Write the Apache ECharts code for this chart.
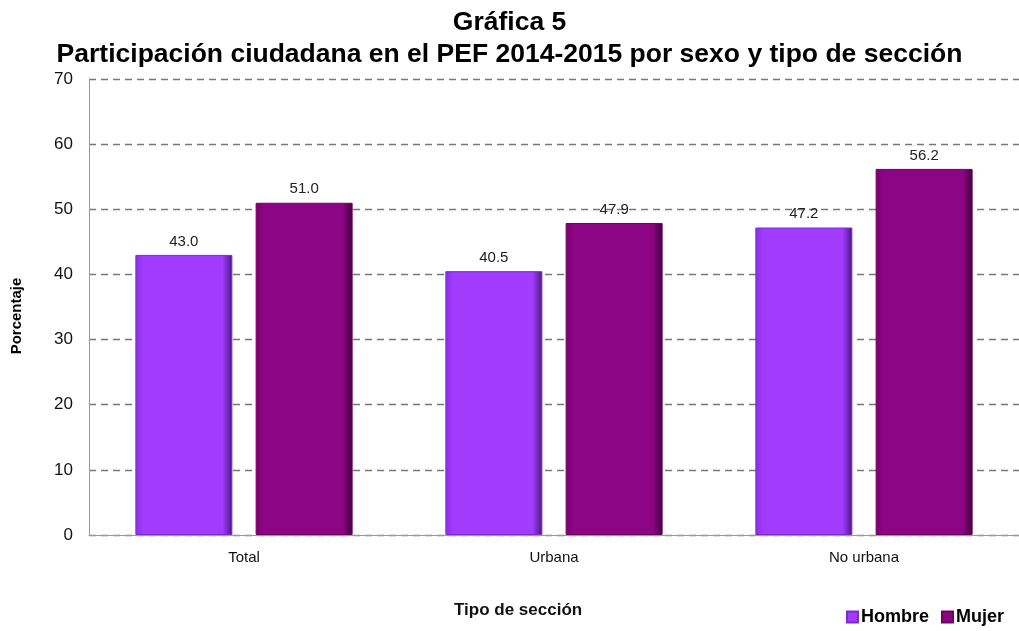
<!DOCTYPE html>
<html>
<head>
<meta charset="utf-8">
<script src="https://cdn.jsdelivr.net/npm/echarts@6/dist/echarts.min.js"></script>
<style>
  html, body { margin: 0; padding: 0; background: #fff; }
  #chart { width: 1019px; height: 631px; }
</style>
</head>
<body>
<div id="chart"></div>
<script>
// datos de la gráfica
var categorias = ['Total', 'Urbana', 'No urbana'];
var hombre = [43.0, 40.5, 47.2];
var mujer = [51.0, 47.9, 56.2];
var ticksY = [0, 10, 20, 30, 40, 50, 60, 70];

var font = 'Liberation Sans, Arial, sans-serif';

function bevel(left, mid, right) {
  return new echarts.graphic.LinearGradient(0, 0, 1, 0, [
    {offset: 0, color: left},
    {offset: 0.08, color: mid},
    {offset: 0.9, color: mid},
    {offset: 1, color: right}
  ]);
}

var chart = echarts.init(document.getElementById('chart'));
chart.setOption({
  animation: false,
  textStyle: {fontFamily: font},
  title: [
    {
      text: 'Gráfica 5\nParticipación ciudadana en el PEF 2014-2015 por sexo y tipo de sección',
      left: 'center',
      top: 2,
      padding: [5, 0, 5, 20],
      textStyle: {fontSize: 26.5, fontWeight: 'bold', color: '#000', lineHeight: 32, fontFamily: font}
    },
    {
      text: 'Tipo de sección',
      left: 449,
      top: 597,
      textStyle: {fontSize: 17, fontWeight: 'bold', color: '#111', fontFamily: font}
    }
  ],
  graphic: [{
    type: 'text',
    x: 9,
    y: 316,
    rotation: Math.PI / 2,
    style: {
      text: 'Porcentaje',
      font: 'bold 15px ' + font,
      fill: '#000',
      align: 'center',
      verticalAlign: 'top'
    }
  }],
  legend: {
    right: 10,
    bottom: 0,
    icon: 'rect',
    itemWidth: 11,
    itemHeight: 11,
    itemGap: 12,
    textStyle: {fontSize: 18, fontWeight: 'bold', color: '#000', padding: [0, 0, 0, -2]},
    data: ['Hombre', 'Mujer']
  },
  grid: {left: 89, right: 0, top: 79, bottom: 96},
  xAxis: {
    type: 'category',
    data: categorias,
    axisLine: {lineStyle: {color: '#999'}},
    axisTick: {show: false},
    axisLabel: {fontSize: 15, color: '#111', margin: 15}
  },
  yAxis: {
    type: 'value',
    min: ticksY[0],
    max: ticksY[ticksY.length - 1],
    interval: 10,
    axisLine: {show: true, lineStyle: {color: '#999'}},
    axisTick: {show: false},
    axisLabel: {fontSize: 17, color: '#111', margin: 16},
    splitLine: {lineStyle: {color: '#777', type: [7, 5], width: 1.3}}
  },
  series: [
    {
      name: 'Hombre',
      type: 'bar',
      data: hombre,
      barWidth: 97,
      barGap: '24%',
      itemStyle: {
        color: bevel('#8a2ee0', '#a13bfd', '#4a1680'),
        borderColor: '#7c2ad0',
        borderWidth: 1
      },
      label: {
        show: true,
        position: 'top',
        distance: 6,
        fontSize: 15,
        color: '#222',
        formatter: function (p) { return p.value.toFixed(1); }
      }
    },
    {
      name: 'Mujer',
      type: 'bar',
      data: mujer,
      barWidth: 97,
      itemStyle: {
        color: bevel('#7a0070', '#8c0585', '#3e0038'),
        borderColor: '#700060',
        borderWidth: 1
      },
      label: {
        show: true,
        position: 'top',
        distance: 6,
        fontSize: 15,
        color: '#222',
        formatter: function (p) { return p.value.toFixed(1); }
      }
    }
  ]
});
</script>
</body>
</html>
